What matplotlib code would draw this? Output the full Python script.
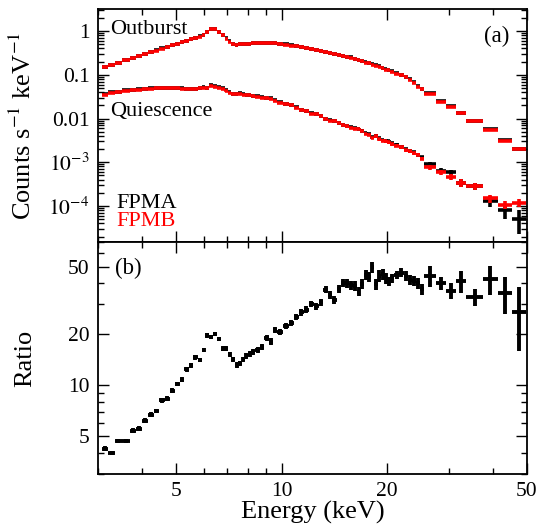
import numpy as np
import matplotlib.pyplot as plt
from matplotlib.ticker import FixedLocator, FixedFormatter, NullFormatter, LogLocator

plt.rcParams['font.family'] = ['Liberation Serif', 'DejaVu Serif']
plt.rcParams['mathtext.fontset'] = 'stix'

# energy bin edges (keV), shared by both spectra and the ratio
edges = [3.07, 3.21, 3.35, 3.51, 3.69, 3.85, 4.00, 4.16, 4.32, 4.48, 4.65, 4.81, 4.97, 5.13,
         5.29, 5.45, 5.60, 5.77, 5.92, 6.07, 6.23, 6.39, 6.56, 6.73, 6.89, 7.04, 7.20, 7.37,
         7.53, 7.69, 7.86, 8.02, 8.20, 8.42, 8.68, 8.94, 9.21, 9.45, 9.70, 10.08, 10.48, 10.82,
         11.18, 11.56, 11.94, 12.34, 12.75, 13.14, 13.54, 13.94, 14.34, 14.73, 15.12, 15.54,
         16.00, 16.40, 16.76, 17.17, 17.55, 17.93, 18.36, 18.77, 19.18, 19.61, 19.98, 20.41,
         20.97, 21.60, 22.28, 22.92, 23.55, 24.18, 24.76, 25.50, 27.60, 29.40, 31.40, 33.50,
         37.50, 41.30, 45.30, 49.60]

# outburst spectrum (counts/s/keV)
out_a = [0.152, 0.170, 0.191, 0.216, 0.245, 0.269, 0.298, 0.330, 0.363, 0.400, 0.437, 0.476,
         0.517, 0.561, 0.607, 0.651, 0.704, 0.756, 0.81, 0.95, 1.12, 1.10, 0.97, 0.82, 0.68,
         0.58, 0.51, 0.49, 0.50, 0.51, 0.52, 0.52, 0.53, 0.54, 0.54, 0.545, 0.54, 0.535, 0.52,
         0.50, 0.47, 0.45, 0.43, 0.41, 0.39, 0.37, 0.35, 0.335, 0.315, 0.30, 0.29, 0.275, 0.26,
         0.25, 0.235, 0.22, 0.21, 0.195, 0.19, 0.175, 0.165, 0.155, 0.145, 0.135, 0.13, 0.12,
         0.11, 0.10, 0.09, 0.079, 0.068, 0.056, 0.048, 0.0377, 0.0251, 0.0193, 0.0136, 0.0089,
         0.00566, 0.00322, 0.00201]
out_b = [0.148, 0.168, 0.188, 0.213, 0.242, 0.266, 0.294, 0.326, 0.358, 0.395, 0.431, 0.470,
         0.511, 0.554, 0.600, 0.645, 0.697, 0.748, 0.80, 0.94, 1.10, 1.09, 0.96, 0.81, 0.67,
         0.57, 0.50, 0.485, 0.495, 0.50, 0.51, 0.515, 0.525, 0.53, 0.535, 0.54, 0.535, 0.53,
         0.515, 0.49, 0.465, 0.445, 0.425, 0.40, 0.38, 0.365, 0.345, 0.33, 0.31, 0.295, 0.285,
         0.27, 0.255, 0.245, 0.23, 0.215, 0.205, 0.19, 0.185, 0.17, 0.16, 0.152, 0.142, 0.132,
         0.127, 0.117, 0.107, 0.098, 0.088, 0.077, 0.066, 0.054, 0.047, 0.0365, 0.0243, 0.0188,
         0.0132, 0.0087, 0.0055, 0.00314, 0.00197]

# quiescence spectrum
qui_a = [0.036, 0.040, 0.041, 0.044, 0.045, 0.047, 0.048, 0.049, 0.050, 0.050, 0.051, 0.050,
         0.050, 0.049, 0.048, 0.048, 0.047, 0.051, 0.052, 0.050, 0.057, 0.055, 0.052, 0.049,
         0.044, 0.040, 0.037, 0.037, 0.0375, 0.036, 0.035, 0.034, 0.0335, 0.032, 0.031, 0.029,
         0.029, 0.026, 0.024, 0.022, 0.020, 0.018, 0.016, 0.0148, 0.0132, 0.0127, 0.0116,
         0.0098, 0.0093, 0.0090, 0.0080, 0.0072, 0.0068, 0.0064, 0.0060, 0.0058, 0.0053,
         0.0046, 0.0044, 0.0037, 0.0040, 0.0035, 0.0032, 0.0031, 0.0030, 0.0027, 0.0025,
         0.0022, 0.0020, 0.0018, 0.0017, 0.0015, 0.0013, 0.00091, 0.00064, 0.00059, 0.00034,
         0.00028, 0.00013, 0.000081, 0.000051]
qui_b = [0.035, 0.039, 0.041, 0.043, 0.045, 0.046, 0.048, 0.048, 0.049, 0.050, 0.050, 0.049,
         0.050, 0.048, 0.048, 0.047, 0.047, 0.050, 0.051, 0.050, 0.056, 0.054, 0.051, 0.048,
         0.043, 0.039, 0.037, 0.036, 0.037, 0.035, 0.034, 0.034, 0.033, 0.031, 0.030, 0.029,
         0.028, 0.025, 0.023, 0.022, 0.020, 0.0175, 0.0158, 0.0145, 0.0130, 0.0125, 0.0112,
         0.0096, 0.0090, 0.0086, 0.0078, 0.0070, 0.0066, 0.0062, 0.0059, 0.0057, 0.0052,
         0.0045, 0.0042, 0.0036, 0.0039, 0.0034, 0.0031, 0.0030, 0.0029, 0.0026, 0.0024,
         0.0022, 0.0019, 0.0018, 0.0016, 0.0015, 0.0012, 0.00077, 0.00059, 0.00047, 0.00034,
         0.00028, 0.00015, 0.000107, 0.00012]

# fractional 1-sigma errors of the quiescence spectra
qui_frac_a = [0.03, 0.03, 0.03, 0.03, 0.03, 0.03, 0.03, 0.03, 0.03, 0.03, 0.03, 0.03, 0.03, 0.03,
              0.03, 0.03, 0.03, 0.03, 0.03, 0.03, 0.035, 0.035, 0.035, 0.035, 0.035, 0.035,
              0.035, 0.035, 0.035, 0.035, 0.035, 0.035, 0.035, 0.035, 0.035, 0.035, 0.035, 0.035,
              0.035, 0.035, 0.045, 0.045, 0.045, 0.045, 0.045, 0.045, 0.045, 0.045, 0.045, 0.045,
              0.06, 0.06, 0.06, 0.06, 0.06, 0.06, 0.06, 0.06, 0.06, 0.06, 0.08, 0.08, 0.08, 0.08,
              0.08, 0.08, 0.08, 0.08, 0.08, 0.08, 0.08, 0.08, 0.08, 0.13, 0.13, 0.13, 0.22, 0.17,
              0.27, 0.37, 0.55]
qui_frac_b = [0.03, 0.03, 0.03, 0.03, 0.03, 0.03, 0.03, 0.03, 0.03, 0.03, 0.03, 0.03, 0.03, 0.03,
              0.03, 0.03, 0.03, 0.03, 0.03, 0.03, 0.035, 0.035, 0.035, 0.035, 0.035, 0.035,
              0.035, 0.035, 0.035, 0.035, 0.035, 0.035, 0.035, 0.035, 0.035, 0.035, 0.035, 0.035,
              0.035, 0.035, 0.045, 0.045, 0.045, 0.045, 0.045, 0.045, 0.045, 0.045, 0.045, 0.045,
              0.06, 0.06, 0.06, 0.06, 0.06, 0.06, 0.06, 0.06, 0.06, 0.06, 0.08, 0.08, 0.08, 0.08,
              0.08, 0.08, 0.08, 0.08, 0.08, 0.08, 0.08, 0.08, 0.08, 0.12, 0.13, 0.17, 0.22, 0.17,
              0.20, 0.20, 0.21]

# outburst / quiescence ratio and its error
ratio = [4.24, 4.00, 4.69, 4.69, 5.41, 5.55, 6.20, 6.72, 7.03, 8.16, 8.35, 9.30, 10.2, 10.8,
         12.4, 13.1, 14.6, 14.1, 16.2, 19.7, 19.3, 20.1, 18.8, 16.4, 16.4, 15.2, 14.2, 13.2,
         13.5, 14.2, 14.9, 15.3, 15.8, 16.2, 16.8, 19.0, 18.1, 21.3, 20.6, 22.4, 23.3, 25.3,
         26.9, 27.9, 30.2, 29.2, 30.8, 36.6, 34.1, 31.9, 36.9, 40.0, 40.0, 39.1, 38.6, 35.7,
         39.6, 44.8, 43.7, 49.7, 39.6, 44.2, 45.3, 42.8, 41.0, 42.8, 44.8, 46.2, 44.2, 42.0,
         41.5, 40.0, 36.9, 44.2, 40.0, 36.2, 41.2, 33.2, 42.3, 34.9, 26.9]
ratio_err = [0.12, 0.12, 0.14, 0.14, 0.16, 0.17, 0.19, 0.20, 0.21, 0.25, 0.25, 0.28, 0.31, 0.33,
             0.37, 0.40, 0.45, 0.45, 0.50, 0.60, 0.60, 0.60, 0.60, 0.55, 0.55, 0.50, 0.50, 0.50,
             0.50, 0.55, 0.60, 0.60, 0.65, 0.65, 0.70, 0.80, 0.80, 0.90, 0.90, 1.0, 1.0, 1.1,
             1.2, 1.3, 1.4, 1.4, 1.5, 1.8, 1.8, 1.7, 2.0, 2.2, 2.3, 2.4, 2.4, 2.3, 2.6, 3.0,
             3.0, 3.5, 3.0, 3.4, 3.5, 3.4, 2.5, 2.5, 2.5, 2.8, 2.7, 2.7, 2.8, 2.8, 2.7, 6.0,
             3.5, 4.0, 6.0, 3.7, 8.0, 8.5, 11.0]

e_lo = np.array(edges[:-1])
e_hi = np.array(edges[1:])
e_mid = np.sqrt(e_lo * e_hi)
xerr = [e_mid - e_lo, e_hi - e_mid]

fig = plt.figure(figsize=(5.42, 5.27), dpi=100)
ax1 = fig.add_axes([0.1808, 0.5408, 0.7915, 0.4421])
ax2 = fig.add_axes([0.1808, 0.1006, 0.7915, 0.4402], sharex=ax1)

lw = 2.6
ax1.errorbar(e_mid, out_a, xerr=xerr, fmt='none', ecolor='black', elinewidth=lw)
ax1.errorbar(e_mid, out_b, xerr=xerr, fmt='none', ecolor='red', elinewidth=lw)
ax1.errorbar(e_mid, qui_a, xerr=xerr, yerr=np.array(qui_a) * np.array(qui_frac_a),
             fmt='none', ecolor='black', elinewidth=lw)
ax1.errorbar(e_mid, qui_b, xerr=xerr, yerr=np.array(qui_b) * np.array(qui_frac_b),
             fmt='none', ecolor='red', elinewidth=lw)

ax2.errorbar(e_mid, ratio, xerr=xerr, yerr=ratio_err, fmt='none', ecolor='black',
             elinewidth=2.8)

ax1.set_xscale('log')
ax1.set_yscale('log')
ax2.set_yscale('log')
ax1.set_xlim(3, 50)
ax1.set_ylim(1.5e-5, 3.2)
ax2.set_ylim(3, 70)

for ax in (ax1, ax2):
    ax.tick_params(which='both', direction='in', top=True, right=True, labelsize=15.5,
                   pad=6)
    ax.tick_params(which='major', length=8, width=1)
    ax.tick_params(which='minor', length=4, width=1)
    ax.xaxis.set_major_locator(FixedLocator([5, 10, 20, 50]))
    ax.xaxis.set_minor_locator(FixedLocator([3, 4, 6, 7, 8, 9, 30, 40]))
    ax.xaxis.set_minor_formatter(NullFormatter())
    ax.yaxis.set_minor_formatter(NullFormatter())
    for s in ax.spines.values():
        s.set_linewidth(1.3)

ax1.tick_params(labelbottom=False)
ax2.xaxis.set_major_formatter(FixedFormatter(['5', '10', '20', '50']))

ax1.yaxis.set_major_locator(FixedLocator([1e-4, 1e-3, 1e-2, 0.1, 1]))
ax1.yaxis.set_major_formatter(FixedFormatter([r'$10^{-4}$', r'$10^{-3}$', '0.01', '0.1', '1']))
ax1.yaxis.set_minor_locator(LogLocator(base=10, subs=np.arange(2, 10), numticks=20))

ax2.yaxis.set_major_locator(FixedLocator([5, 10, 20, 50]))
ax2.yaxis.set_major_formatter(FixedFormatter(['5', '10', '20', '50']))
ax2.yaxis.set_minor_locator(FixedLocator([3, 4, 6, 7, 8, 9, 30, 40, 60, 70]))

ax1.set_ylabel(r'Counts s$^{-1}$ keV$^{-1}$', fontsize=19)
ax2.set_ylabel('Ratio', fontsize=19)
ax2.set_xlabel('Energy (keV)', fontsize=19)
ax1.yaxis.set_label_coords(-0.145, 0.5)
ax2.yaxis.set_label_coords(-0.145, 0.5)
ax2.xaxis.labelpad = 0

ax1.text(0.028, 0.91, 'Outburst', transform=ax1.transAxes, fontsize=16, va='center')
ax1.text(0.028, 0.558, 'Quiescence', transform=ax1.transAxes, fontsize=16, va='center')
ax1.text(0.044, 0.167, 'FPMA', transform=ax1.transAxes, fontsize=16, va='center')
ax1.text(0.044, 0.086, 'FPMB', transform=ax1.transAxes, fontsize=16, va='center', color='red')
ax1.text(0.93, 0.884, '(a)', transform=ax1.transAxes, fontsize=16.5, va='center', ha='center')
ax2.text(0.07, 0.884, '(b)', transform=ax2.transAxes, fontsize=16.5, va='center', ha='center')

fig.savefig('out.png', dpi=100)
